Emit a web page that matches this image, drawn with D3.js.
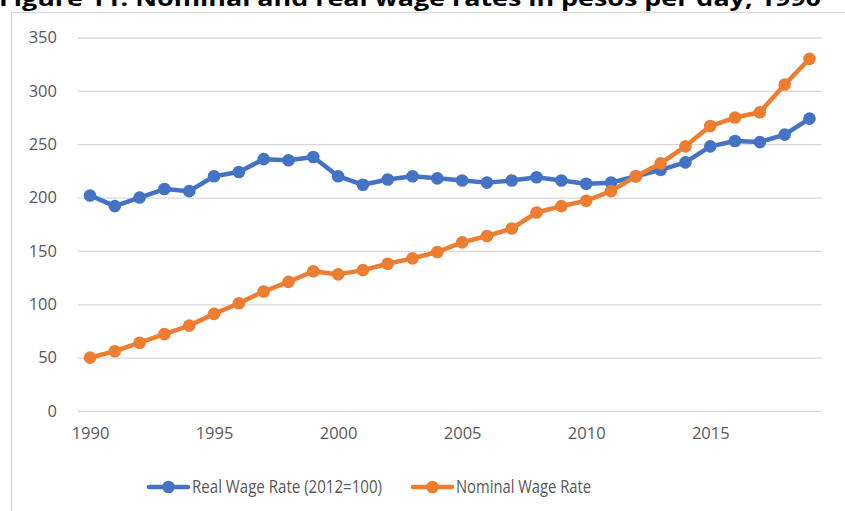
<!DOCTYPE html>
<html>
<head>
<meta charset="utf-8">
<script src="https://cdn.jsdelivr.net/npm/d3@7"></script>
<style>
  body { margin: 0; background: #fff; }
  svg { display: block; }
</style>
</head>
<body>
<div id="wrapper"></div>
<script>
const years = d3.range(1990, 2020);
const realWage = [202, 192, 200, 208, 206, 220, 224, 236, 235, 238,
                  220, 212, 217, 220, 218, 216, 214, 216, 219, 216,
                  213, 214, 220, 226, 233, 248, 253, 252, 259, 274];
const nominalWage = [50, 56, 64, 72, 80, 91, 101, 112, 121, 131,
                     128, 132, 138, 143, 149, 158, 164, 171, 186, 192,
                     197, 206, 220, 232, 248, 267, 275, 280, 306, 330];
const yTicks = [0, 50, 100, 150, 200, 250, 300, 350];
const xTicks = [1990, 1995, 2000, 2005, 2010, 2015];
const seriesNames = ["Real Wage Rate (2012=100)", "Nominal Wage Rate"];
const titleText = "Figure 11. Nominal and real wage rates in pesos per day, 1990";

const colors = ["#4472C4", "#ED7D31"];

const dimensions = {
  width: 845,
  height: 511,
  gridLeft: 78,
  gridRight: 822,
  top: 37.5,
  bottom: 411,
};

const svg = d3.select("#wrapper")
  .append("svg")
  .attr("width", dimensions.width)
  .attr("height", dimensions.height)
  .style("font-family", "'Open Sans', sans-serif");

// chart frame
svg.append("rect")
  .attr("x", 11.5)
  .attr("y", 12.5)
  .attr("width", 900)
  .attr("height", 600)
  .attr("fill", "none")
  .attr("stroke", "#D9D9D9")
  .attr("stroke-width", 1.3);

// title (runs off the top edge, like the source)
svg.append("text")
  .attr("x", -1)
  .attr("y", 6)
  .attr("textLength", 822)
  .attr("lengthAdjust", "spacingAndGlyphs")
  .style("font-size", "22px")
  .style("font-weight", "bold")
  .attr("fill", "#000")
  .text(titleText);

const xScale = d3.scaleLinear()
  .domain([1990, 2019])
  .range([90, 809.5]);

const yScale = d3.scaleLinear()
  .domain([0, 350])
  .range([dimensions.bottom, dimensions.top]);

// y axis + gridlines
const yAxis = svg.append("g")
  .attr("transform", `translate(${dimensions.gridLeft},0)`)
  .call(d3.axisLeft(yScale)
    .tickValues(yTicks)
    .tickSize(-(dimensions.gridRight - dimensions.gridLeft))
    .tickPadding(21));
yAxis.select(".domain").remove();
yAxis.selectAll(".tick line")
  .attr("stroke", "#D9D9D9")
  .attr("stroke-width", 1.3);
yAxis.selectAll(".tick text")
  .attr("fill", "#595959")
  .style("font-size", "16.5px")
  .style("font-family", "'Open Sans', sans-serif");

// x axis labels
const xAxis = svg.append("g")
  .attr("transform", `translate(0,${dimensions.bottom})`)
  .call(d3.axisBottom(xScale)
    .tickValues(xTicks)
    .tickFormat(d3.format("d"))
    .tickSize(0)
    .tickPadding(16));
xAxis.select(".domain").remove();
xAxis.selectAll(".tick text")
  .attr("fill", "#595959")
  .style("font-size", "16.5px")
  .style("font-family", "'Open Sans', sans-serif");

const series = [realWage, nominalWage];
const lineGenerator = d3.line()
  .x((d, i) => xScale(years[i]))
  .y(d => yScale(d));

series.forEach((values, s) => {
  const g = svg.append("g");
  g.append("path")
    .datum(values)
    .attr("d", lineGenerator)
    .attr("fill", "none")
    .attr("stroke", colors[s])
    .attr("stroke-width", 4.5)
    .attr("stroke-linejoin", "round");
  g.selectAll("circle")
    .data(values)
    .join("circle")
    .attr("cx", (d, i) => xScale(years[i]))
    .attr("cy", d => yScale(d))
    .attr("r", 6.3)
    .attr("fill", colors[s]);
});

// legend
const legendY = 487;
const legendItems = [
  { x: 149, textX: 192, textW: 190 },
  { x: 413, textX: 456, textW: 135 },
];
legendItems.forEach((item, s) => {
  svg.append("line")
    .attr("x1", item.x)
    .attr("x2", item.x + 39)
    .attr("y1", legendY)
    .attr("y2", legendY)
    .attr("stroke", colors[s])
    .attr("stroke-width", 4.5)
    .attr("stroke-linecap", "round");
  svg.append("circle")
    .attr("cx", item.x + 19.5)
    .attr("cy", legendY)
    .attr("r", 6.3)
    .attr("fill", colors[s]);
  svg.append("text")
    .attr("x", item.textX)
    .attr("y", legendY)
    .attr("dy", "0.36em")
    .attr("textLength", item.textW)
    .attr("lengthAdjust", "spacingAndGlyphs")
    .attr("fill", "#595959")
    .style("font-size", "17.5px")
    .text(seriesNames[s]);
});
</script>
</body>
</html>
